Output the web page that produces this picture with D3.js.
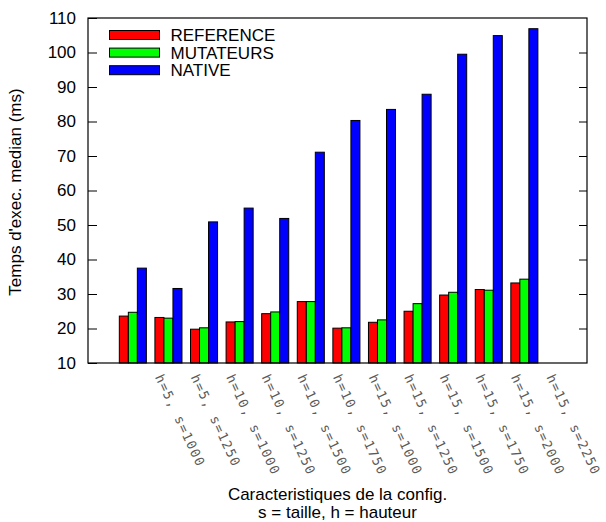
<!DOCTYPE html>
<html><head><meta charset="utf-8">
<script src="https://cdn.jsdelivr.net/npm/d3@7"></script>
<style>body{margin:0;background:#fff}svg{display:block}</style>
</head><body>
<svg id="c" width="606" height="522"></svg>
<script>
const categories = ["h=5, s=1000","h=5, s=1250","h=10, s=1000","h=10, s=1250","h=10, s=1500","h=10, s=1750","h=15, s=1000","h=15, s=1250","h=15, s=1500","h=15, s=1750","h=15, s=2000","h=15, s=2250"];
const seriesNames = ["REFERENCE","MUTATEURS","NATIVE"];
const seriesColors = ["#ff0000","#00ff00","#0000ff"];
const reference = [23.6,23.2,19.8,21.9,24.3,27.8,20.1,21.8,25.0,29.7,31.3,33.2];
const mutateurs = [24.7,23.0,20.2,22.0,24.8,27.8,20.2,22.5,27.2,30.5,31.1,34.3];
const native = [37.5,31.6,50.9,54.9,51.9,71.1,80.3,83.5,87.9,99.5,104.9,106.9];
const yTicks = [10,20,30,40,50,60,70,80,90,100,110];
const series = [reference, mutateurs, native];

const svg = d3.select("#c");
const L = 88, R = 587, T = 18, B = 363;
const x = d3.scaleLinear().domain([-1.26, 12.76]).range([L, R]);
const y = d3.scaleLinear().domain([10, 110]).range([B, T]);
const unit = x(1) - x(0);
const sub = d3.scaleBand().domain(d3.range(3)).range([-0.38*unit, 0.38*unit]).padding(0);

// bars
series.forEach((vals, s) => {
  svg.append("g").selectAll("rect").data(vals).join("rect")
    .attr("x", (d, i) => x(i) + sub(s))
    .attr("y", d => y(d))
    .attr("width", sub.bandwidth())
    .attr("height", d => B - y(d))
    .attr("fill", seriesColors[s])
    .attr("stroke", "#000").attr("stroke-width", 1);
});

// frame
svg.append("rect").attr("x", L).attr("y", T).attr("width", R - L).attr("height", B - T)
  .attr("fill", "none").attr("stroke", "#000").attr("stroke-width", 1.2);

// y axis left
const yl = svg.append("g").attr("transform", `translate(${L},0)`)
  .call(d3.axisLeft(y).tickValues(yTicks).tickSize(-9).tickPadding(12));
yl.select(".domain").remove();
yl.selectAll("text").attr("font-family", "Liberation Sans, Arial, sans-serif").attr("font-size", 17).attr("fill", "#000");
yl.selectAll("line").attr("stroke", "#000");
// y axis right ticks
const yr = svg.append("g").attr("transform", `translate(${R},0)`)
  .call(d3.axisRight(y).tickValues(yTicks.slice(1, -1)).tickSize(-8).tickFormat(""));
yr.select(".domain").remove();
yr.selectAll("line").attr("stroke", "#000");

// x labels
svg.append("g").selectAll("text").data(categories).join("text")
  .attr("transform", (d, i) => `translate(${x(i) + 22},${377}) rotate(65)`)
  .attr("font-family", "DejaVu Sans Mono, monospace")
  .attr("font-size", 13).attr("letter-spacing", "1.3px")
  .attr("fill", "#5a5a5a")
  .text(d => d);

// legend
const lg = svg.append("g");
seriesNames.forEach((n, i) => {
  const cy = 35 + i * 17.6;
  lg.append("rect").attr("x", 109.5).attr("y", cy - 4.5).attr("width", 50).attr("height", 9)
    .attr("fill", seriesColors[i]).attr("stroke", "#000").attr("stroke-width", 1);
  lg.append("text").attr("x", 170.5).attr("y", cy).attr("dy", "0.35em")
    .attr("font-family", "Liberation Sans, Arial, sans-serif").attr("font-size", 17)
    .text(n);
});

// axis titles
svg.append("text").attr("transform", `translate(21,192) rotate(-90)`)
  .attr("text-anchor", "middle").attr("font-family", "Liberation Sans, Arial, sans-serif").attr("font-size", 17)
  .text("Temps d'exec. median (ms)");
const xt = svg.append("text").attr("text-anchor", "middle")
  .attr("font-family", "Liberation Sans, Arial, sans-serif").attr("font-size", 17);
xt.append("tspan").attr("x", (L + R) / 2).attr("y", 500).text("Caracteristiques de la config.");
xt.append("tspan").attr("x", (L + R) / 2).attr("y", 517.5).text("s = taille, h = hauteur");
</script>
</body></html>
